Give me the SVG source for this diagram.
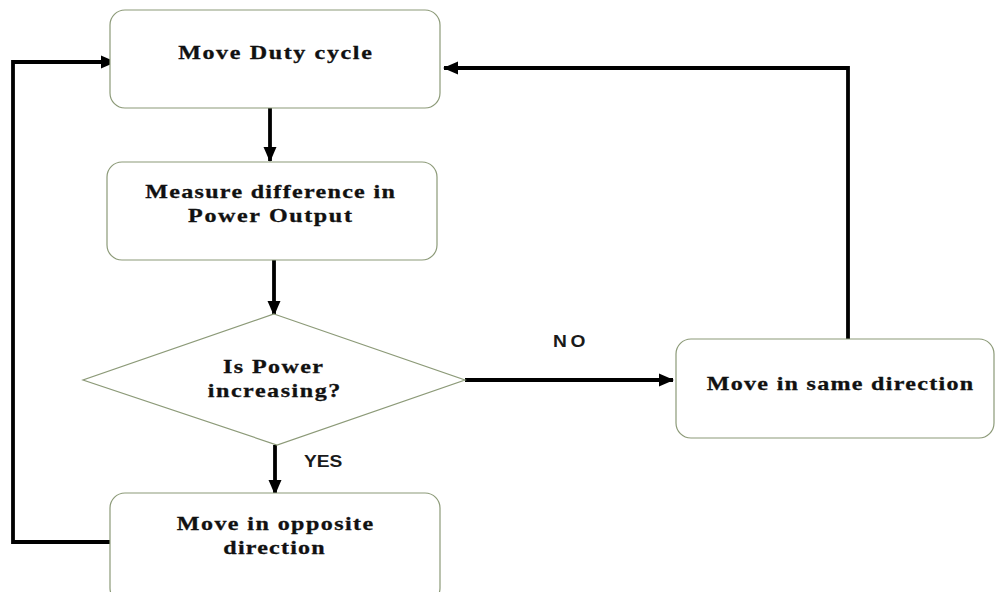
<svg xmlns="http://www.w3.org/2000/svg" width="995" height="592" viewBox="0 0 995 592">
<defs>
<style>
.box{fill:#ffffff;stroke:#8c9a78;stroke-width:1.2}
.t{font-family:"Liberation Serif","Times New Roman",serif;font-weight:bold;font-size:18.5px;fill:#111111;stroke:#111111;stroke-width:0.3;text-anchor:middle}
.lbl{font-family:"Liberation Sans",Arial,sans-serif;font-weight:bold;font-size:16px;fill:#1a1a1a}
.c{fill:none;stroke:#000000;stroke-width:3.8}
</style>
<marker id="ah" markerUnits="userSpaceOnUse" markerWidth="15" markerHeight="15" viewBox="0 0 15 15" refX="14" refY="7.5" orient="auto">
<path d="M0,1 L15,7.5 L0,14 Z" fill="#000000"/>
</marker>
</defs>
<rect width="995" height="592" fill="#ffffff"/>
<g id="connectors">
<path class="c" d="M270,108 V161" marker-end="url(#ah)"/>
<path class="c" d="M274,260 V315" marker-end="url(#ah)"/>
<path class="c" d="M275,445 V494" marker-end="url(#ah)"/>
<path class="c" d="M465,380 H673" marker-end="url(#ah)"/>
<path class="c" d="M110,542 H13 V62 H115" marker-end="url(#ah)"/>
<path class="c" d="M848,339 V68 H444" marker-end="url(#ah)"/>
<text class="lbl" transform="translate(304,467) scale(1.2,1)" textLength="32" lengthAdjust="spacing">YES</text>
<text class="lbl" transform="translate(553,347) scale(1.2,1)" textLength="27" lengthAdjust="spacing">NO</text>
</g>
<g id="move-duty-cycle">
<rect class="box" x="110" y="10" width="330" height="98" rx="15"/>
<text class="t" transform="translate(275,59) scale(1.3,1)" textLength="149" lengthAdjust="spacing">Move Duty cycle</text>
</g>
<g id="measure-difference">
<rect class="box" x="107" y="162" width="330" height="98" rx="15"/>
<text class="t" transform="translate(270,198) scale(1.3,1)" textLength="192" lengthAdjust="spacing">Measure difference in</text>
<text class="t" transform="translate(270,222) scale(1.3,1)" textLength="126" lengthAdjust="spacing">Power Output</text>
</g>
<g id="is-power-increasing">
<polygon class="box" points="274,314 465,380 277,445 83,380"/>
<text class="t" transform="translate(273,373) scale(1.3,1)" textLength="77" lengthAdjust="spacing">Is Power</text>
<text class="t" transform="translate(274,397) scale(1.3,1)" textLength="102" lengthAdjust="spacing">increasing?</text>
</g>
<g id="move-same-direction">
<rect class="box" x="676" y="339" width="318" height="99" rx="15"/>
<text class="t" transform="translate(840,390) scale(1.3,1)" textLength="205" lengthAdjust="spacing">Move in same direction</text>
</g>
<g id="move-opposite-direction">
<rect class="box" x="110" y="493" width="330" height="110" rx="15"/>
<text class="t" transform="translate(275,530) scale(1.3,1)" textLength="151" lengthAdjust="spacing">Move in opposite</text>
<text class="t" transform="translate(274,554) scale(1.3,1)" textLength="78" lengthAdjust="spacing">direction</text>
</g>
</svg>
